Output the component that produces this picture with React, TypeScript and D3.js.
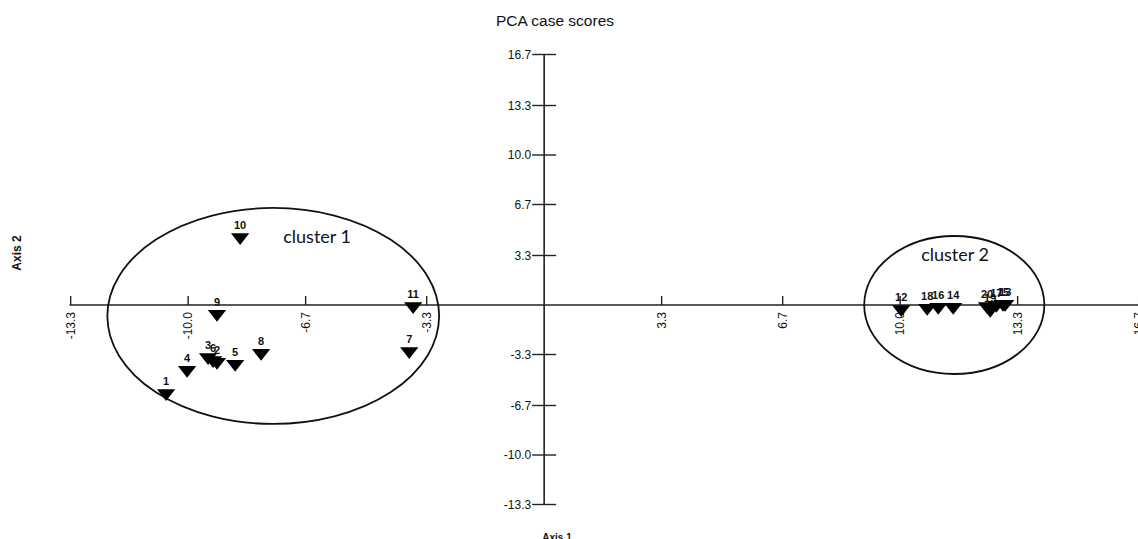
import React from "react";
import * as d3 from "d3";

const pointIds = ["1","2","3","4","5","6","7","8","9","10","11","12","13","14","15","16","17","18","19","20"];
const axis1Scores = [-10.62,-9.19,-9.44,-10.03,-8.68,-9.3,-3.79,-7.95,-9.19,-8.54,-3.68,10.03,12.95,11.49,12.89,11.07,12.7,10.76,12.53,12.44];
const axis2Scores = [-5.87,-3.8,-3.47,-4.33,-3.93,-3.67,-3.07,-3.2,-0.6,4.53,-0.07,-0.27,0.07,-0.13,0.07,-0.13,0.0,-0.2,-0.33,-0.07];

const xTicks = [-13.3,-10.0,-6.7,-3.3,3.3,6.7,10.0,13.3,16.7];
const yTicks = [16.7,13.3,10.0,6.7,3.3,-3.3,-6.7,-10.0,-13.3];

const clusterNames = ["cluster 1","cluster 2"];
const clusterCx = [-7.61, 11.52];
const clusterCy = [-0.73, 0.0];
const clusterRx = [4.66, 2.53];
const clusterRy = [7.2, 4.6];
const clusterLabelX = [-7.33, 10.59];
const clusterLabelY = [4.13, 2.93];

const W = 1138, H = 539;
const ARIAL = "'Liberation Sans', Arial, sans-serif";

export default function App() {
  const x = d3.scaleLinear().domain([-13.333, 16.667]).range([69.5, 1137.5]);
  const y = d3.scaleLinear().domain([-13.333, 16.667]).range([505, 55]);
  const x0 = x(0), y0 = y(0);
  const tri = d3.symbol().type(d3.symbolTriangle).size(80);
  const triPath = tri() as string;

  return (
    <svg width={W} height={H} style={{ position: "absolute", left: 0, top: 0, background: "#fff" }} fontFamily={ARIAL}>
      <text x={555} y={26} textAnchor="middle" fontSize={15.5} fill="#111">PCA case scores</text>
      {/* x axis */}
      <line x1={x(-13.333)} x2={W} y1={y0} y2={y0} stroke="#222" strokeWidth={1.6} />
      {xTicks.map((t) => (
        <g key={"xt" + t}>
          <line x1={x(t)} x2={x(t)} y1={y0 - 9} y2={y0} stroke="#222" strokeWidth={1.4} />
          <text transform={`translate(${x(t)},${y0 + 7}) rotate(-90)`} textAnchor="end" dy="0.35em" fontSize={12} fill="#111">{t.toFixed(1)}</text>
        </g>
      ))}
      {/* y axis */}
      <line x1={x0} x2={x0} y1={y(16.667)} y2={y(-13.333)} stroke="#222" strokeWidth={1.6} />
      {yTicks.map((t) => (
        <g key={"yt" + t}>
          <line x1={x0 - 12} x2={x0 + 12} y1={y(t)} y2={y(t)} stroke="#222" strokeWidth={1.4} />
          <text x={x0 - 13} y={y(t)} dy="0.35em" textAnchor="end" fontSize={12} fill="#111">{t.toFixed(1)}</text>
        </g>
      ))}
      <text x={557} y={541} textAnchor="middle" fontSize={10} fontWeight="bold" fill="#111">Axis 1</text>
      <text transform={`translate(21,253) rotate(-90)`} textAnchor="middle" fontSize={12} fontWeight="bold" fill="#111">Axis 2</text>
      {/* clusters */}
      {clusterNames.map((n, i) => (
        <g key={n}>
          <ellipse cx={x(clusterCx[i])} cy={y(clusterCy[i])} rx={x(clusterRx[i]) - x(0)} ry={y(0) - y(clusterRy[i])} fill="none" stroke="#111" strokeWidth={1.8} />
          <text x={x(clusterLabelX[i])} y={y(clusterLabelY[i])} fontFamily="Lato, 'Open Sans', sans-serif" fontSize={18} fill="#111">{n}</text>
        </g>
      ))}
      {/* points */}
      {pointIds.map((id, i) => {
        const px = x(axis1Scores[i]), py = y(axis2Scores[i]);
        return (
          <g key={id}>
            <path d={triPath} transform={`translate(${px},${py}) rotate(180) scale(1.35,1)`} fill="#000" />
            <text x={px} y={py - 8} textAnchor="middle" fontSize={11} fontWeight="bold" fill="#111">{id}</text>
          </g>
        );
      })}
    </svg>
  );
}
